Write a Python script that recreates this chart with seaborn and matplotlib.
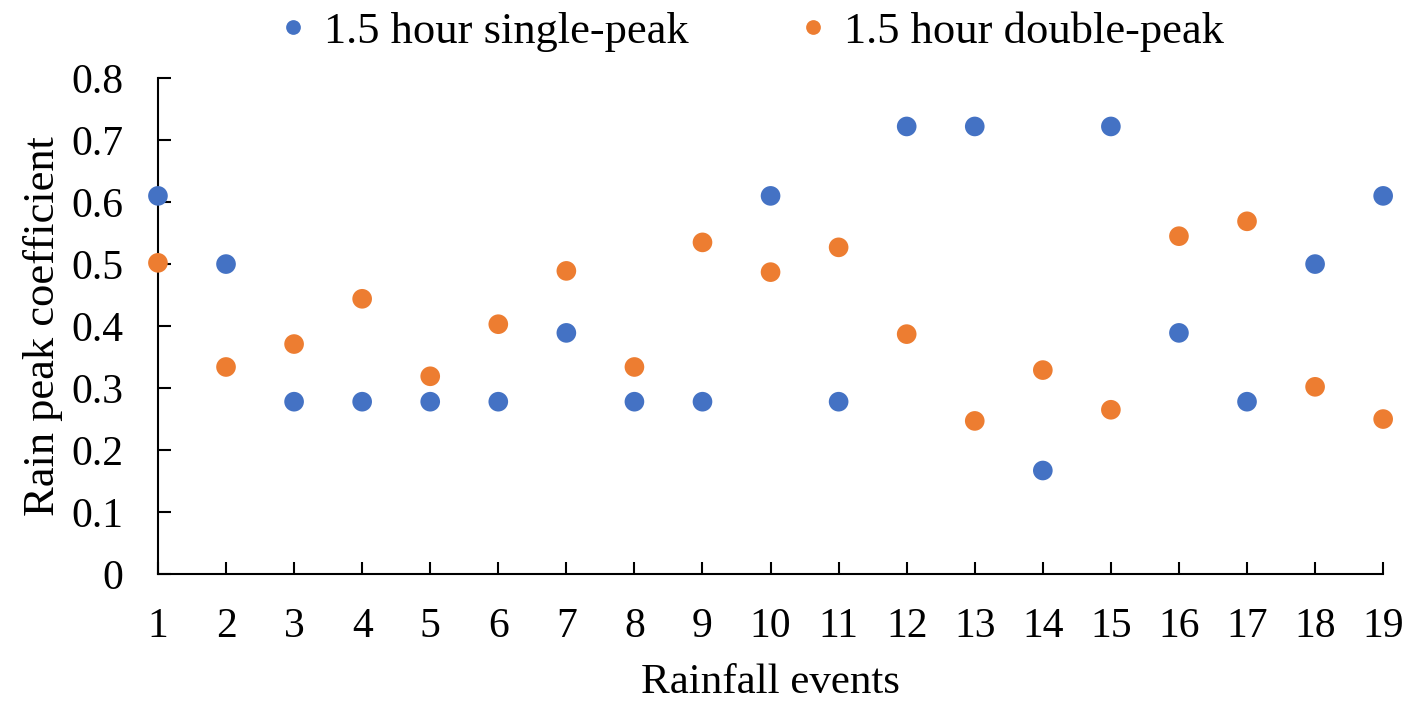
import matplotlib
matplotlib.use("Agg")
import matplotlib.pyplot as plt
import seaborn as sns
import pandas as pd

events = list(range(1, 20))
single_peak = [0.61, 0.5, 0.278, 0.278, 0.278, 0.278, 0.389, 0.278, 0.278, 0.61,
               0.278, 0.722, 0.722, 0.167, 0.722, 0.389, 0.278, 0.5, 0.61]
double_peak = [0.502, 0.334, 0.371, 0.444, 0.319, 0.403, 0.489, 0.334, 0.535, 0.487,
               0.527, 0.387, 0.247, 0.329, 0.265, 0.545, 0.569, 0.302, 0.25]
series_names = ["1.5 hour single-peak", "1.5 hour double-peak"]
colors = ["#4472C4", "#ED7D31"]

df = pd.concat([
    pd.DataFrame({"event": events, "value": single_peak, "series": series_names[0]}),
    pd.DataFrame({"event": events, "value": double_peak, "series": series_names[1]}),
])

sns.set_theme(style="ticks")
plt.rcParams["font.family"] = ["Liberation Serif", "DejaVu Serif"]
plt.rcParams["xtick.direction"] = "in"
plt.rcParams["ytick.direction"] = "in"
plt.rcParams["text.color"] = "black"
plt.rcParams["axes.labelcolor"] = "black"

fig = plt.figure(figsize=(14.23, 7.10), dpi=100)
ax = fig.add_axes([0.111, 0.1915, 0.861, 0.6985])

sns.scatterplot(data=df, x="event", y="value", hue="series", hue_order=series_names,
                palette=colors, s=200, edgecolor="none", ax=ax, clip_on=False, zorder=3)

ax.set_xlim(1, 19)
ax.set_ylim(0, 0.8)
ax.set_xticks(events)
ax.set_yticks([0, 0.1, 0.2, 0.3, 0.4, 0.5, 0.6, 0.7, 0.8])
ax.set_yticklabels(["0", "0.1", "0.2", "0.3", "0.4", "0.5", "0.6", "0.7", "0.8"])
ax.tick_params(axis="both", direction="in", length=9, width=1.5, labelsize=30,
               colors="black", labelcolor="black")
ax.tick_params(axis="x", pad=24)
ax.tick_params(axis="y", pad=25)
for sp in ["top", "right"]:
    ax.spines[sp].set_visible(False)
for sp in ["left", "bottom"]:
    ax.spines[sp].set_linewidth(1.5)
    ax.spines[sp].set_color("black")

ax.set_xlabel("Rainfall events", fontsize=31, labelpad=13, color="black")
ax.set_ylabel("Rain peak coefficient", fontsize=32, labelpad=6, color="black")

leg = ax.legend(loc="upper center", bbox_to_anchor=(0.483, 1.215), ncol=2, frameon=False,
                fontsize=32, markerscale=0.75, handlelength=0.8, handletextpad=0.3,
                columnspacing=2.4)
for t in leg.get_texts():
    t.set_color("black")

fig.savefig("out.png", dpi=100)
